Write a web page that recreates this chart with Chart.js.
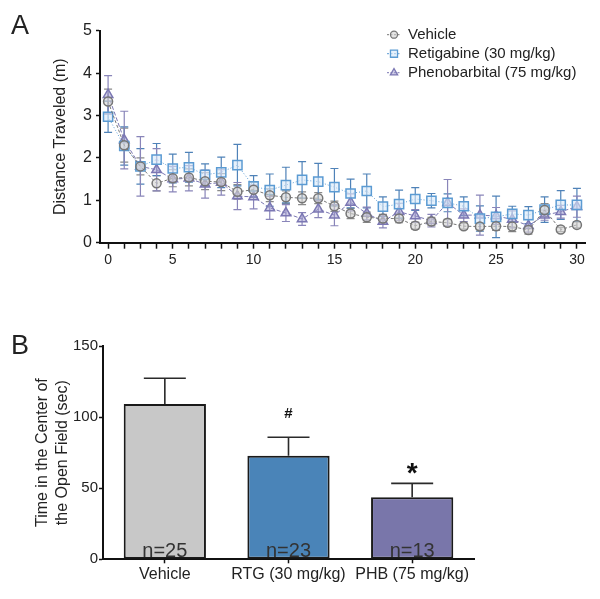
<!DOCTYPE html>
<html>
<head>
<meta charset="utf-8">
<script src="https://cdn.jsdelivr.net/npm/chart.js@4.4.1/dist/chart.umd.min.js"></script>
<style>
  html, body { margin: 0; padding: 0; background: #fff; }
  #wrap { position: relative; width: 600px; height: 599px; overflow: hidden; font-family: 'Liberation Sans', Arial, Helvetica, sans-serif; }
  canvas { position: absolute; left: 0; }
  .panel { position: absolute; left: 11px; font-size: 27px; color: #222; line-height: 1; }
</style>
</head>
<body>
<div id="wrap">
  <canvas id="chartA" width="600" height="300" style="top:0"></canvas>
  <canvas id="chartB" width="600" height="279" style="top:320px"></canvas>
  <div class="panel" style="top:12px">A</div>
  <div class="panel" style="top:332px">B</div>
</div>
<script>
// ---- Panel A: distance traveled per minute (mean ± SEM) ----
const minuteLabels = ['0', '', '', '', '5', '', '', '', '', '10', '', '', '', '', '15',
                      '', '', '', '', '20', '', '', '', '', '25', '', '', '', '', '30'];

const vehicleMean = [3.33, 2.30, 1.80, 1.40, 1.52, 1.54, 1.45, 1.43, 1.20, 1.25,
                     1.12, 1.07, 1.05, 1.05, 0.86, 0.69, 0.60, 0.57, 0.57, 0.40,
                     0.50, 0.47, 0.39, 0.38, 0.39, 0.38, 0.30, 0.77, 0.31, 0.42];
const vehicleSem  = [0.29, 0.40, 0.20, 0.18, 0.20, 0.20, 0.20, 0.20, 0.17, 0.18,
                     0.15, 0.15, 0.15, 0.13, 0.12, 0.12, 0.12, 0.10, 0.10, 0.08,
                     0.10, 0.08, 0.07, 0.07, 0.10, 0.12, 0.10, 0.15, 0.05, 0.07];

const retigabineMean = [2.97, 2.28, 1.80, 1.96, 1.75, 1.78, 1.60, 1.66, 1.83, 1.33,
                        1.24, 1.36, 1.48, 1.44, 1.31, 1.16, 1.22, 0.85, 0.91, 1.03,
                        0.99, 0.94, 0.86, 0.57, 0.61, 0.68, 0.65, 0.78, 0.89, 0.89];
const retigabineSem  = [0.37, 0.45, 0.42, 0.38, 0.34, 0.35, 0.26, 0.36, 0.49, 0.25,
                        0.38, 0.42, 0.43, 0.43, 0.44, 0.34, 0.40, 0.23, 0.33, 0.27,
                        0.17, 0.21, 0.22, 0.30, 0.49, 0.18, 0.20, 0.30, 0.34, 0.39];

const phenobarbitalMean = [3.49, 2.42, 1.80, 1.72, 1.50, 1.52, 1.38, 1.42, 1.10, 1.08,
                           0.82, 0.70, 0.56, 0.79, 0.65, 0.95, 0.69, 0.50, 0.73, 0.63,
                           0.52, 0.94, 0.65, 0.65, 0.63, 0.55, 0.40, 0.65, 0.73, 0.85];
const phenobarbitalSem  = [0.45, 0.68, 0.70, 0.50, 0.30, 0.30, 0.33, 0.30, 0.32, 0.28,
                           0.27, 0.20, 0.15, 0.20, 0.25, 0.20, 0.15, 0.15, 0.20, 0.15,
                           0.15, 0.55, 0.15, 0.47, 0.20, 0.20, 0.15, 0.12, 0.15, 0.25];

// ---- Panel B: time in center of open field ----
const groupLabels = ['Vehicle', 'RTG (30 mg/kg)', 'PHB (75 mg/kg)'];
const centerTime  = [109.2, 72.9, 43.6];
const centerSem   = [18.1, 12.9, 9.8];
const groupN      = ['n=25', 'n=23', 'n=13'];
const sigMarks    = ['', '#', '*'];

const FONT = "'Liberation Sans', Arial, Helvetica, sans-serif";
Chart.defaults.font.family = FONT;
Chart.defaults.color = '#222';
Chart.defaults.animation = false;

// error bars (both directions) under the line markers
const lineErrorBars = {
    id: 'lineErrorBars',
    beforeDatasetsDraw(chart) {
        const ctx = chart.ctx;
        const yScale = chart.scales.y;
        chart.data.datasets.forEach((ds, i) => {
            const meta = chart.getDatasetMeta(i);
            ctx.save();
            ctx.strokeStyle = ds.errorColor;
            ctx.lineWidth = 1.2;
            meta.data.forEach((pt, j) => {
                const top = yScale.getPixelForValue(ds.data[j] + ds.errors[j]);
                const bot = yScale.getPixelForValue(ds.data[j] - ds.errors[j]);
                ctx.beginPath();
                ctx.moveTo(pt.x, top); ctx.lineTo(pt.x, bot);
                ctx.moveTo(pt.x - 4, top); ctx.lineTo(pt.x + 4, top);
                ctx.moveTo(pt.x - 4, bot); ctx.lineTo(pt.x + 4, bot);
                ctx.stroke();
            });
            ctx.restore();
        });
    }
};

// legend sitting inside the plot, top right
const insideLegend = {
    id: 'insideLegend',
    afterDatasetsDraw(chart) {
        const ctx = chart.ctx;
        const x0 = chart.chartArea.right - 191;
        const y0 = chart.chartArea.top + 4;
        chart.data.datasets.forEach((ds, row) => {
            const y = y0 + row * 19;
            ctx.save();
            ctx.strokeStyle = ds.borderColor;
            ctx.lineWidth = 1;
            ctx.setLineDash([2, 1.5]);
            ctx.beginPath();
            ctx.moveTo(x0 - 7, y); ctx.lineTo(x0 + 7, y);
            ctx.stroke();
            ctx.setLineDash([]);
            ctx.fillStyle = ds.pointBackgroundColor;
            ctx.strokeStyle = ds.pointBorderColor;
            ctx.lineWidth = 1.3;
            Chart.helpers.drawPoint(ctx, { pointStyle: ds.pointStyle, radius: ds.legendRadius, borderWidth: 1.3, rotation: 0 }, x0, y);
            ctx.fillStyle = '#222';
            ctx.font = '15px ' + FONT;
            ctx.textAlign = 'left';
            ctx.textBaseline = 'middle';
            ctx.fillText(ds.label, x0 + 14, y);
            ctx.restore();
        });
    }
};

function lineSeries(label, values, errors, color, errColor, fill, style, radius, dash, legendRadius) {
    return {
        label: label,
        data: values,
        errors: errors,
        errorColor: errColor,
        borderColor: color,
        borderWidth: 1,
        borderDash: dash,
        pointStyle: style,
        pointRadius: radius,
        pointBorderWidth: 1.5,
        pointBorderColor: color,
        pointBackgroundColor: fill,
        legendRadius: legendRadius,
        fill: false,
        tension: 0,
    };
}

new Chart(document.getElementById('chartA'), {
    type: 'line',
    data: {
        labels: minuteLabels,
        datasets: [
            lineSeries('Vehicle', vehicleMean, vehicleSem, '#767676', '#8a8a8a', 'rgba(210,210,210,0.6)', 'circle', 4.5, [3, 2], 3.5),
            lineSeries('Retigabine (30 mg/kg)', retigabineMean, retigabineSem, '#5b9bd3', '#4f82b8', 'rgba(215,232,248,0.6)', 'rect', 6.5, [1, 2], 5),
            lineSeries('Phenobarbital (75 mg/kg)', phenobarbitalMean, phenobarbitalSem, '#7b77b3', '#8985b9', 'rgba(160,156,205,0.5)', 'triangle', 5.5, [4, 2], 4.2),
        ],
    },
    options: {
        responsive: false,
        layout: { padding: { top: 30.7, right: 15, left: 0, bottom: 0 } },
        plugins: { legend: { display: false }, tooltip: { enabled: false } },
        scales: {
            x: {
                type: 'category',
                offset: true,
                grid: { drawOnChartArea: false, drawTicks: true, tickLength: 6, tickWidth: 1.5, tickColor: '#111', offset: false },
                border: { color: '#111', width: 2 },
                ticks: { autoSkip: false, maxRotation: 0, padding: 3, font: { size: 14 }, color: '#222' },
                afterFit(s) { s.height = 57.3; },
            },
            y: {
                min: 0,
                max: 5,
                ticks: { stepSize: 1, padding: 4, font: { size: 16 }, color: '#222' },
                grid: { drawOnChartArea: false, tickLength: 4, tickWidth: 1.5, tickColor: '#111' },
                border: { color: '#111', width: 2 },
                title: { display: true, text: 'Distance Traveled (m)', font: { size: 16 }, color: '#222', padding: { top: 51.4, bottom: 0 } },
                afterFit(s) { s.width = 100; },
            },
        },
    },
    plugins: [lineErrorBars, insideLegend],
});

// bar error bars, n counts and significance marks
const markStyle = { '#': { size: 15, lift: 19 }, '*': { size: 28, lift: 1 } };
const barExtras = {
    id: 'barExtras',
    afterDatasetsDraw(chart) {
        const ctx = chart.ctx;
        const yScale = chart.scales.y;
        const ds = chart.data.datasets[0];
        const meta = chart.getDatasetMeta(0);
        const base = yScale.getPixelForValue(0);
        meta.data.forEach((bar, j) => {
            const top = yScale.getPixelForValue(ds.data[j] + ds.errors[j]);
            ctx.save();
            ctx.strokeStyle = '#2a2a2a';
            ctx.lineWidth = 1.6;
            ctx.beginPath();
            ctx.moveTo(bar.x, bar.y); ctx.lineTo(bar.x, top);
            ctx.moveTo(bar.x - 21, top); ctx.lineTo(bar.x + 21, top);
            ctx.stroke();

            ctx.fillStyle = '#333';
            ctx.font = '20px ' + FONT;
            ctx.textAlign = 'center';
            ctx.textBaseline = 'alphabetic';
            ctx.fillText(groupN[j], bar.x, base - 2);

            const m = sigMarks[j];
            if (m) {
                const st = markStyle[m];
                ctx.fillStyle = '#111';
                ctx.font = 'bold ' + st.size + 'px ' + FONT;
                ctx.fillText(m, bar.x, top - st.lift);
            }
            ctx.restore();
        });
    }
};

new Chart(document.getElementById('chartB'), {
    type: 'bar',
    data: {
        labels: groupLabels,
        datasets: [{
            data: centerTime,
            errors: centerSem,
            backgroundColor: ['#c8c8c8', '#4a84b8', '#7976aa'],
            borderColor: '#1a1a1a',
            borderWidth: 2,
            borderSkipped: false,
            categoryPercentage: 1,
            barPercentage: 0.665,
        }],
    },
    options: {
        responsive: false,
        layout: { padding: { top: 26, right: 126, left: 0, bottom: 0 } },
        plugins: { legend: { display: false }, tooltip: { enabled: false } },
        scales: {
            x: {
                grid: { drawOnChartArea: false, offset: false, tickLength: 4, tickWidth: 1.5, tickColor: '#111' },
                border: { color: '#111', width: 2 },
                ticks: { autoSkip: false, maxRotation: 0, padding: 2, font: { size: 16 }, color: '#222' },
                afterFit(s) { s.height = 39.7; },
            },
            y: {
                min: 0,
                max: 150,
                ticks: { stepSize: 50, padding: 1, font: { size: 15 }, color: '#222' },
                grid: { drawOnChartArea: false, tickLength: 4, tickWidth: 1.5, tickColor: '#111' },
                border: { color: '#111', width: 2 },
                title: {
                    display: true,
                    text: ['Time in the Center of', 'the Open Field (sec)'],
                    font: { size: 16, lineHeight: 1.25 },
                    color: '#222',
                    padding: { top: 33, bottom: 0 },
                },
                afterFit(s) { s.width = 103; },
            },
        },
    },
    plugins: [barExtras],
});
</script>
</body>
</html>
